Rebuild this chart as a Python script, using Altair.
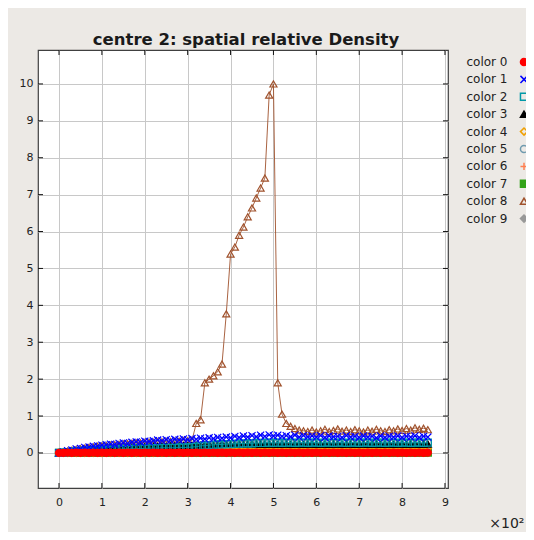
import altair as alt
import pandas as pd

# ---- data ----
x_values = list(range(0, 870, 10))  # 87 sample positions

series_names = ["color 0", "color 1", "color 2", "color 3", "color 4",
                "color 5", "color 6", "color 7", "color 8", "color 9"]
series_colors = ["#ff0000", "#0000ff", "#0099a8", "#000000", "#f0a000",
                 "#6f9aae", "#ff7f50", "#33a31a", "#a0522d", "#999999"]
series_fills = ["#ff0000", "transparent", "transparent", "#000000", "transparent",
                "transparent", "transparent", "#33a31a", "transparent", "#999999"]
series_shapes = ["circle", "M-1,-1L1,1M1,-1L-1,1", "square", "triangle-up", "diamond",
                 "circle", "M-1,0L1,0M0,-1L0,1", "square", "triangle-up", "diamond"]

s0 = [0.00, 0.00, 0.01, 0.00, 0.01, 0.00, 0.01, 0.00, 0.01, 0.00,
      0.01, 0.00, 0.01, 0.00, 0.01, 0.00, 0.01, 0.00, 0.01, 0.00,
      0.01, 0.00, 0.01, 0.00, 0.01, 0.00, 0.01, 0.00, 0.01, 0.00,
      0.01, 0.00, 0.01, 0.00, 0.01, 0.00, 0.01, 0.00, 0.01, 0.00,
      0.01, 0.00, 0.01, 0.00, 0.01, 0.00, 0.01, 0.00, 0.01, 0.00,
      0.01, 0.00, 0.01, 0.00, 0.01, 0.00, 0.01, 0.00, 0.01, 0.00,
      0.01, 0.00, 0.01, 0.00, 0.01, 0.00, 0.01, 0.00, 0.01, 0.00,
      0.01, 0.00, 0.01, 0.00, 0.01, 0.00, 0.01, 0.00, 0.01, 0.00,
      0.01, 0.00, 0.01, 0.00, 0.01, 0.00, 0.01]
s1 = [0.00, 0.03, 0.06, 0.08, 0.11, 0.12, 0.15, 0.16, 0.18, 0.19,
      0.21, 0.22, 0.24, 0.23, 0.26, 0.27, 0.26, 0.29, 0.30, 0.29,
      0.32, 0.31, 0.33, 0.35, 0.33, 0.36, 0.34, 0.37, 0.35, 0.38,
      0.36, 0.39, 0.37, 0.40, 0.38, 0.41, 0.39, 0.42, 0.40, 0.43,
      0.41, 0.45, 0.42, 0.46, 0.43, 0.47, 0.44, 0.48, 0.45, 0.49,
      0.46, 0.48, 0.45, 0.47, 0.44, 0.48, 0.43, 0.47, 0.44, 0.46,
      0.43, 0.47, 0.42, 0.46, 0.44, 0.45, 0.42, 0.47, 0.43, 0.45,
      0.42, 0.46, 0.43, 0.45, 0.41, 0.46, 0.42, 0.45, 0.43, 0.46,
      0.42, 0.45, 0.43, 0.46, 0.42, 0.45, 0.43]
s2 = [0.00, 0.01, 0.02, 0.03, 0.04, 0.05, 0.06, 0.06, 0.07, 0.08,
      0.08, 0.09, 0.09, 0.10, 0.10, 0.11, 0.11, 0.11, 0.12, 0.12,
      0.12, 0.13, 0.13, 0.13, 0.14, 0.14, 0.14, 0.14, 0.15, 0.15,
      0.15, 0.16, 0.17, 0.19, 0.20, 0.21, 0.22, 0.23, 0.23, 0.24,
      0.24, 0.25, 0.25, 0.26, 0.26, 0.26, 0.27, 0.27, 0.27, 0.28,
      0.27, 0.28, 0.27, 0.28, 0.28, 0.27, 0.28, 0.28, 0.27, 0.28,
      0.28, 0.27, 0.28, 0.28, 0.27, 0.28, 0.28, 0.27, 0.28, 0.28,
      0.27, 0.28, 0.28, 0.27, 0.28, 0.28, 0.27, 0.28, 0.28, 0.27,
      0.28, 0.28, 0.27, 0.28, 0.28, 0.27, 0.28]
s3 = [0.00, 0.01, 0.02, 0.03, 0.04, 0.05, 0.06, 0.07, 0.08, 0.09,
      0.10, 0.11, 0.11, 0.12, 0.13, 0.13, 0.14, 0.15, 0.15, 0.16,
      0.17, 0.17, 0.18, 0.18, 0.19, 0.19, 0.19, 0.20, 0.20, 0.20,
      0.20, 0.21, 0.21, 0.21, 0.22, 0.22, 0.22, 0.23, 0.23, 0.23,
      0.23, 0.23, 0.24, 0.24, 0.24, 0.24, 0.24, 0.24, 0.24, 0.24,
      0.24, 0.23, 0.24, 0.24, 0.23, 0.24, 0.24, 0.23, 0.24, 0.24,
      0.23, 0.24, 0.24, 0.23, 0.24, 0.24, 0.23, 0.24, 0.24, 0.23,
      0.24, 0.24, 0.23, 0.24, 0.24, 0.23, 0.24, 0.24, 0.23, 0.24,
      0.24, 0.23, 0.24, 0.24, 0.23, 0.24, 0.24]
s4 = [0.00, 0.00, 0.00, 0.00, 0.00, 0.00, 0.00, 0.00, 0.00, 0.00,
      0.00, 0.00, 0.00, 0.00, 0.00, 0.00, 0.00, 0.00, 0.00, 0.00,
      0.00, 0.00, 0.00, 0.01, 0.01, 0.01, 0.01, 0.01, 0.01, 0.01,
      0.01, 0.01, 0.03, 0.06, 0.08, 0.10, 0.11, 0.12, 0.12, 0.13,
      0.13, 0.12, 0.13, 0.13, 0.12, 0.13, 0.13, 0.12, 0.13, 0.13,
      0.12, 0.13, 0.13, 0.12, 0.13, 0.13, 0.12, 0.13, 0.13, 0.12,
      0.13, 0.13, 0.12, 0.13, 0.13, 0.12, 0.13, 0.13, 0.12, 0.13,
      0.13, 0.12, 0.13, 0.13, 0.12, 0.13, 0.13, 0.12, 0.13, 0.13,
      0.12, 0.13, 0.13, 0.12, 0.13, 0.13, 0.12]
s5 = [0.00, 0.01, 0.02, 0.02, 0.03, 0.04, 0.05, 0.05, 0.06, 0.07,
      0.07, 0.08, 0.08, 0.09, 0.09, 0.10, 0.10, 0.10, 0.11, 0.11,
      0.11, 0.12, 0.12, 0.12, 0.13, 0.13, 0.13, 0.13, 0.14, 0.14,
      0.14, 0.15, 0.16, 0.18, 0.19, 0.20, 0.21, 0.22, 0.22, 0.23,
      0.23, 0.24, 0.24, 0.25, 0.25, 0.25, 0.26, 0.26, 0.26, 0.27,
      0.26, 0.27, 0.26, 0.27, 0.27, 0.26, 0.27, 0.27, 0.26, 0.27,
      0.27, 0.26, 0.27, 0.27, 0.26, 0.27, 0.27, 0.26, 0.27, 0.27,
      0.26, 0.27, 0.27, 0.26, 0.27, 0.27, 0.26, 0.27, 0.27, 0.26,
      0.27, 0.27, 0.26, 0.27, 0.27, 0.26, 0.27]
s6 = [0.00, 0.01, 0.01, 0.01, 0.01, 0.01, 0.02, 0.01, 0.02, 0.01,
      0.02, 0.01, 0.02, 0.01, 0.02, 0.01, 0.02, 0.01, 0.02, 0.01,
      0.02, 0.01, 0.02, 0.01, 0.02, 0.01, 0.02, 0.01, 0.02, 0.01,
      0.02, 0.01, 0.02, 0.01, 0.02, 0.01, 0.02, 0.01, 0.02, 0.01,
      0.02, 0.01, 0.02, 0.01, 0.02, 0.01, 0.02, 0.01, 0.02, 0.01,
      0.02, 0.01, 0.02, 0.01, 0.02, 0.01, 0.02, 0.01, 0.02, 0.01,
      0.02, 0.01, 0.02, 0.01, 0.02, 0.01, 0.02, 0.01, 0.02, 0.01,
      0.02, 0.01, 0.02, 0.01, 0.02, 0.01, 0.02, 0.01, 0.02, 0.01,
      0.02, 0.01, 0.02, 0.01, 0.02, 0.01, 0.02]
s7 = [0.00, 0.00, 0.01, 0.00, 0.01, 0.00, 0.01, 0.00, 0.01, 0.00,
      0.01, 0.00, 0.01, 0.00, 0.01, 0.00, 0.01, 0.00, 0.01, 0.00,
      0.01, 0.00, 0.01, 0.00, 0.01, 0.00, 0.01, 0.00, 0.01, 0.00,
      0.01, 0.00, 0.01, 0.00, 0.01, 0.00, 0.01, 0.00, 0.01, 0.00,
      0.01, 0.00, 0.01, 0.00, 0.01, 0.00, 0.01, 0.00, 0.01, 0.00,
      0.01, 0.00, 0.01, 0.00, 0.01, 0.00, 0.01, 0.00, 0.01, 0.00,
      0.01, 0.00, 0.01, 0.00, 0.01, 0.00, 0.01, 0.00, 0.01, 0.00,
      0.01, 0.00, 0.01, 0.00, 0.01, 0.00, 0.01, 0.00, 0.01, 0.00,
      0.01, 0.00, 0.01, 0.00, 0.01, 0.00, 0.01]
s8 = [0.00, 0.02, 0.05, 0.07, 0.09, 0.11, 0.13, 0.15, 0.16, 0.18,
      0.19, 0.20, 0.21, 0.22, 0.23, 0.24, 0.25, 0.26, 0.27, 0.27,
      0.28, 0.29, 0.29, 0.30, 0.30, 0.31, 0.31, 0.32, 0.32, 0.33,
      0.33, 0.34, 0.80, 0.90, 1.90, 2.00, 2.09, 2.20, 2.41, 3.77,
      5.39, 5.58, 5.90, 6.12, 6.40, 6.64, 6.91, 7.18, 7.45, 9.70,
      10.00, 1.90, 1.05, 0.80, 0.72, 0.66, 0.62, 0.60, 0.58, 0.62,
      0.57, 0.60, 0.64, 0.58, 0.61, 0.65, 0.59, 0.62, 0.58, 0.63,
      0.60, 0.57, 0.62, 0.59, 0.64, 0.60, 0.58, 0.63, 0.60, 0.65,
      0.61, 0.66, 0.62, 0.68, 0.64, 0.67, 0.63]
s9 = [0.00, 0.00, 0.00, 0.00, 0.00, 0.00, 0.00, 0.00, 0.00, 0.00,
      0.00, 0.00, 0.00, 0.00, 0.00, 0.00, 0.00, 0.00, 0.00, 0.00,
      0.00, 0.00, 0.00, 0.00, 0.00, 0.00, 0.00, 0.00, 0.00, 0.00,
      0.00, 0.00, 0.00, 0.00, 0.00, 0.00, 0.00, 0.00, 0.00, 0.00,
      0.00, 0.00, 0.00, 0.00, 0.00, 0.00, 0.00, 0.00, 0.00, 0.00,
      0.00, 0.00, 0.00, 0.00, 0.00, 0.00, 0.00, 0.00, 0.00, 0.00,
      0.00, 0.00, 0.00, 0.00, 0.00, 0.00, 0.00, 0.00, 0.00, 0.00,
      0.00, 0.00, 0.00, 0.00, 0.00, 0.00, 0.00, 0.00, 0.00, 0.00,
      0.00, 0.00, 0.00, 0.00, 0.00, 0.00, 0.00]

all_series = [s0, s1, s2, s3, s4, s5, s6, s7, s8, s9]

x_ticks = [0, 100, 200, 300, 400, 500, 600, 700, 800, 900]
y_ticks = [0, 1, 2, 3, 4, 5, 6, 7, 8, 9, 10]

rows = []
for name, vals in zip(series_names, all_series):
    for xv, yv in zip(x_values, vals):
        rows.append({"series": name, "x": xv, "y": yv})
df = pd.DataFrame(rows)

W, H = 410, 438
FONT = "DejaVu Sans"

x_scale = alt.Scale(domain=[-49, 907], nice=False, zero=False)
y_scale = alt.Scale(domain=[-0.95, 10.92], nice=False, zero=False)

x_axis = alt.Axis(values=x_ticks, labelExpr="datum.value / 100", grid=True,
                  gridColor="#c8c8c8", gridWidth=1, ticks=False, tickSize=0,
                  domain=False, labelFont=FONT, labelFontSize=11, labelColor="#222222",
                  labelPadding=8, labelFlush=False,
                  title="×10²", titleFont=FONT, titleFontSize=14, titleFontWeight="normal",
                  titleColor="#222222", titleX=486, titleY=39, titleAlign="right",
                  titleBaseline="alphabetic")
y_axis = alt.Axis(values=y_ticks, grid=True, gridColor="#c8c8c8", gridWidth=1,
                  ticks=False, tickSize=0, domain=False, labelFont=FONT,
                  labelFontSize=11, labelColor="#222222", labelPadding=5,
                  labelFlush=False, title=None)

legend = alt.Legend(orient="none", legendX=480, legendY=6, title=None,
                    labelAlign="right", labelOffset={"expr": "-22.5"}, symbolSize=50,
                    symbolStrokeWidth=1.5, rowPadding=3.4, padding=0,
                    labelFont=FONT, labelFontSize=12, labelColor="#222222")

shape_enc = alt.Shape("series:N", scale=alt.Scale(domain=series_names, range=series_shapes), legend=legend)
fill_enc = alt.Fill("series:N", scale=alt.Scale(domain=series_names, range=series_fills), legend=legend)
stroke_enc = alt.Stroke("series:N", scale=alt.Scale(domain=series_names, range=series_colors), legend=legend)

layers = []
for i in reversed(range(10)):
    name = series_names[i]
    base = alt.Chart(df).transform_filter(alt.datum.series == name)
    line = base.mark_line(color=series_colors[i], strokeWidth=1, opacity=0.9).encode(
        x=alt.X("x:Q", scale=x_scale, axis=x_axis),
        y=alt.Y("y:Q", scale=y_scale, axis=y_axis),
    )
    pts = base.mark_point(size=50, strokeWidth=1.2, opacity=1).encode(
        x=alt.X("x:Q", scale=x_scale, axis=x_axis),
        y=alt.Y("y:Q", scale=y_scale, axis=y_axis),
        shape=shape_enc, fill=fill_enc, stroke=stroke_enc,
    )
    layers += [line, pts]

xt = pd.DataFrame({"x": x_ticks})
yt = pd.DataFrame({"y": y_ticks})
tick_bottom = alt.Chart(xt).mark_rule(color="#111111", strokeWidth=1).encode(
    x=alt.X("x:Q", scale=x_scale, axis=x_axis), y=alt.value(H), y2=alt.value(H - 5))
tick_top = alt.Chart(xt).mark_rule(color="#111111", strokeWidth=1).encode(
    x=alt.X("x:Q", scale=x_scale, axis=x_axis), y=alt.value(0), y2=alt.value(5))
tick_left = alt.Chart(yt).mark_rule(color="#111111", strokeWidth=1).encode(
    y=alt.Y("y:Q", scale=y_scale, axis=y_axis), x=alt.value(0), x2=alt.value(5))
tick_right = alt.Chart(yt).mark_rule(color="#111111", strokeWidth=1).encode(
    y=alt.Y("y:Q", scale=y_scale, axis=y_axis), x=alt.value(W), x2=alt.value(W - 5))

chart = alt.layer(*layers, tick_bottom, tick_top, tick_left, tick_right).properties(
    width=W, height=H,
    title=alt.TitleParams("centre 2: spatial relative Density", font=FONT, fontSize=16.5,
                          fontWeight="bold", color="#1a1a1a", anchor="middle", offset=1, dx=3),
    autosize=alt.AutoSizeParams(type="none"),
    padding={"left": 30, "top": 42, "right": 78, "bottom": 44},
    background="#ece9e5",
).configure_view(fill="white", stroke="#404040", strokeWidth=1.2)

chart.save("out.html", embed_options={"renderer": "svg", "actions": False})
